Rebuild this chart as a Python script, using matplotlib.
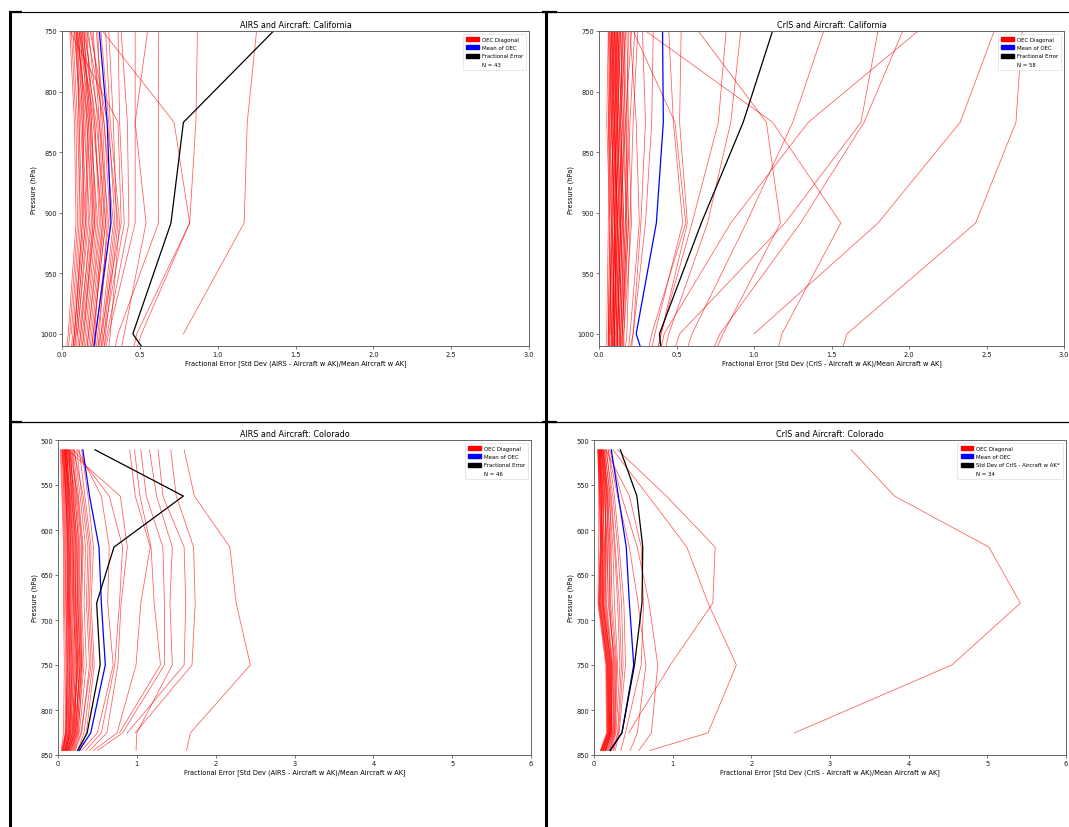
import numpy as np
import matplotlib
matplotlib.use("Agg")
import matplotlib.pyplot as plt
from matplotlib.patches import Patch
from matplotlib.lines import Line2D

nan = np.nan

# pressure levels (hPa) of the retrieval grid, last entry = surface
p_ca = [749.9, 825.4, 908.5, 1000.0, 1012.0]
p_co = [510.9, 562.3, 619.0, 681.3, 749.9, 825.4, 845.0]

# ---- AIRS California: OEC diagonal per profile ----
airs_ca_oec = [
    [1.25, 1.19, 1.17, 0.78, nan],
    [0.87, 0.86, 0.82, 0.51, 0.48],
    [0.26, 0.72, 0.82, 0.48, 0.46],
    [0.62, 0.62, 0.62, 0.36, 0.34],
    [0.55, 0.47, 0.54, 0.40, 0.38],
    [0.47, 0.47, 0.47, 0.30, 0.28],
    [0.38, 0.42, 0.43, 0.29, 0.27],
    [0.36, 0.37, 0.40, 0.27, 0.25],
    [0.05, 0.36, 0.38, 0.25, 0.23],
    [0.10, 0.16, 0.20, 0.14, 0.13],
    [0.12, 0.20, 0.26, 0.18, 0.17],
    [0.08, 0.12, 0.15, 0.09, 0.08],
    [0.14, 0.24, 0.30, 0.22, 0.21],
    [0.11, 0.18, 0.23, 0.16, 0.15],
    [0.09, 0.14, 0.18, 0.12, 0.11],
    [0.16, 0.27, 0.33, 0.25, 0.24],
    [0.13, 0.22, 0.28, 0.20, 0.19],
    [0.10, 0.15, 0.17, 0.10, 0.09],
    [0.07, 0.10, 0.12, 0.07, 0.06],
    [0.18, 0.29, 0.36, 0.28, 0.27],
    [0.12, 0.19, 0.22, 0.15, 0.14],
    [0.15, 0.21, 0.24, 0.17, 0.16],
    [0.06, 0.09, 0.10, 0.05, 0.04],
    [0.20, 0.24, 0.27, 0.19, 0.18],
    [0.11, 0.13, 0.14, 0.08, 0.07],
    [0.22, 0.27, 0.31, 0.23, 0.22],
    [0.09, 0.17, 0.21, 0.13, 0.12],
    [0.14, 0.18, 0.20, 0.12, 0.11],
    [0.25, 0.30, 0.34, 0.26, 0.25],
    [0.10, 0.11, 0.11, 0.06, nan],
    [0.17, 0.23, 0.26, 0.21, 0.20],
    [0.13, 0.16, 0.19, 0.11, 0.10],
    [0.28, 0.31, 0.37, 0.31, 0.30],
    [0.08, 0.13, 0.16, 0.10, nan],
    [0.19, 0.26, 0.29, 0.24, 0.23],
    [0.12, 0.14, 0.13, 0.08, 0.07],
    [0.23, 0.25, 0.28, 0.20, 0.19],
    [0.30, 0.33, 0.35, 0.27, 0.26],
    [0.11, 0.21, 0.25, 0.17, 0.16],
    [0.16, 0.19, 0.21, 0.14, 0.13],
    [0.09, 0.11, 0.13, 0.08, 0.07],
    [0.05, 0.08, 0.09, 0.04, 0.03],
    [0.14, 0.17, 0.15, 0.09, 0.08],
]
airs_ca_mean = [0.24, 0.29, 0.315, 0.215, 0.205]
airs_ca_frac = [1.36, 0.78, 0.70, 0.455, 0.52]

# ---- CrIS California ----
cris_ca_oec = [
    [2.73, 2.69, 2.43, 1.60, 1.57],
    [2.55, 2.33, 1.80, 1.00, nan],
    [0.30, 1.12, 1.56, 1.18, 1.155],
    [1.96, 1.71, 1.30, 0.78, 0.74],
    [1.80, 1.69, 1.20, 0.52, 0.49],
    [2.06, 1.35, 0.85, 0.42, 0.40],
    [1.45, 1.25, 0.95, 0.60, 0.57],
    [0.64, 1.08, 1.17, 0.80, 0.76],
    [0.915, 0.85, 0.70, 0.45, 0.43],
    [0.82, 0.77, 0.60, 0.40, 0.38],
    [0.53, 0.52, 0.57, 0.40, 0.38],
    [0.45, 0.48, 0.54, 0.36, 0.34],
    [0.35, 0.34, 0.30, 0.22, 0.20],
    [0.22, 0.49, 0.56, 0.34, 0.32],
    [0.07, 0.06, 0.08, 0.07, 0.07],
    [0.09, 0.08, 0.10, 0.09, 0.08],
    [0.11, 0.10, 0.12, 0.10, 0.10],
    [0.13, 0.12, 0.14, 0.12, 0.12],
    [0.08, 0.07, 0.09, 0.06, 0.06],
    [0.10, 0.09, 0.11, 0.08, 0.08],
    [0.12, 0.13, 0.15, 0.13, 0.13],
    [0.15, 0.14, 0.16, 0.14, 0.14],
    [0.06, 0.05, 0.07, 0.06, 0.06],
    [0.17, 0.16, 0.18, 0.15, 0.15],
    [0.09, 0.10, 0.09, 0.08, nan],
    [0.19, 0.18, 0.19, 0.16, 0.16],
    [0.11, 0.12, 0.11, 0.10, 0.09],
    [0.14, 0.15, 0.13, 0.11, 0.11],
    [0.08, 0.09, 0.12, 0.09, 0.09],
    [0.21, 0.17, 0.14, 0.12, 0.12],
    [0.10, 0.11, 0.13, 0.11, 0.11],
    [0.12, 0.11, 0.10, 0.09, 0.09],
    [0.16, 0.13, 0.12, 0.10, 0.10],
    [0.07, 0.08, 0.10, 0.08, 0.08],
    [0.23, 0.20, 0.17, 0.15, 0.14],
    [0.13, 0.14, 0.16, 0.14, 0.14],
    [0.09, 0.07, 0.08, 0.07, nan],
    [0.18, 0.19, 0.21, 0.16, 0.16],
    [0.11, 0.09, 0.09, 0.07, 0.07],
    [0.14, 0.12, 0.11, 0.10, 0.10],
    [0.25, 0.22, 0.20, 0.18, 0.17],
    [0.10, 0.12, 0.14, 0.12, 0.12],
    [0.08, 0.10, 0.11, 0.10, 0.10],
    [0.15, 0.17, 0.19, 0.15, 0.15],
    [0.06, 0.07, 0.06, 0.05, 0.05],
    [0.12, 0.10, 0.12, 0.11, 0.11],
    [0.20, 0.24, 0.26, 0.20, 0.19],
    [0.09, 0.11, 0.10, 0.09, 0.09],
    [0.17, 0.14, 0.15, 0.13, 0.13],
    [0.13, 0.11, 0.13, 0.12, 0.12],
    [0.07, 0.09, 0.08, 0.07, 0.07],
    [0.11, 0.13, 0.15, 0.13, 0.13],
    [0.28, 0.30, 0.27, 0.22, 0.21],
    [0.10, 0.08, 0.10, 0.09, 0.09],
    [0.16, 0.18, 0.17, 0.14, 0.14],
    [0.12, 0.15, 0.18, 0.15, nan],
    [0.08, 0.06, 0.07, 0.06, 0.06],
    [0.14, 0.16, 0.14, 0.12, 0.12],
]
cris_ca_mean = [0.41, 0.415, 0.37, 0.24, 0.27]
cris_ca_frac = [1.12, 0.93, 0.66, 0.39, 0.40]

# ---- AIRS Colorado ----
airs_co_oec = [
    [1.60, 1.73, 2.18, 2.26, 2.44, 1.68, 1.63],
    [1.43, 1.50, 1.72, 1.74, 1.70, 0.98, nan],
    [1.27, 1.33, 1.60, 1.62, 1.60, 0.88, nan],
    [1.16, 1.25, 1.45, 1.42, 1.45, 1.00, 0.99],
    [1.05, 1.12, 1.33, 1.35, 1.35, 0.82, 0.50],
    [0.97, 1.04, 1.18, 1.22, 1.30, 0.78, nan],
    [0.91, 0.98, 1.17, 1.05, 0.99, 0.75, 0.45],
    [0.12, 0.79, 0.88, 0.80, 0.76, 0.62, 0.40],
    [0.20, 0.65, 0.82, 0.78, 0.72, 0.55, 0.35],
    [0.25, 0.55, 0.65, 0.63, 0.70, 0.50, 0.30],
    [0.05, 0.08, 0.10, 0.10, 0.12, 0.10, 0.06],
    [0.07, 0.10, 0.13, 0.14, 0.16, 0.13, 0.08],
    [0.09, 0.13, 0.16, 0.16, 0.19, 0.15, 0.10],
    [0.11, 0.15, 0.19, 0.20, 0.22, 0.18, 0.12],
    [0.04, 0.06, 0.08, 0.08, 0.10, 0.09, 0.05],
    [0.13, 0.18, 0.22, 0.22, 0.25, 0.20, 0.14],
    [0.08, 0.12, 0.15, 0.13, 0.15, 0.12, 0.07],
    [0.15, 0.20, 0.24, 0.25, 0.28, 0.22, 0.15],
    [0.06, 0.11, 0.14, 0.15, 0.18, 0.14, 0.09],
    [0.10, 0.16, 0.20, 0.18, 0.21, 0.16, 0.11],
    [0.12, 0.19, 0.25, 0.24, 0.26, 0.19, 0.12],
    [0.17, 0.23, 0.28, 0.27, 0.30, 0.24, 0.17],
    [0.03, 0.05, 0.07, 0.07, 0.08, 0.07, 0.04],
    [0.09, 0.14, 0.18, 0.19, 0.23, 0.17, 0.10],
    [0.14, 0.17, 0.21, 0.21, 0.24, 0.21, 0.13],
    [0.19, 0.26, 0.32, 0.30, 0.33, 0.25, 0.18],
    [0.07, 0.09, 0.11, 0.12, 0.14, 0.11, 0.06],
    [0.11, 0.13, 0.17, 0.17, 0.20, 0.16, 0.09],
    [0.21, 0.28, 0.35, 0.33, 0.36, 0.27, 0.20],
    [0.05, 0.10, 0.13, 0.12, 0.13, 0.11, 0.07],
    [0.13, 0.21, 0.27, 0.26, 0.29, 0.22, 0.14],
    [0.16, 0.19, 0.23, 0.23, 0.25, 0.18, 0.12],
    [0.08, 0.15, 0.19, 0.20, 0.24, 0.19, 0.11],
    [0.24, 0.30, 0.38, 0.36, 0.40, 0.30, 0.22],
    [0.10, 0.12, 0.14, 0.14, 0.17, 0.14, 0.08],
    [0.12, 0.17, 0.23, 0.22, 0.27, 0.23, 0.16],
    [0.06, 0.07, 0.09, 0.10, 0.11, 0.10, 0.05],
    [0.18, 0.24, 0.30, 0.29, 0.31, 0.26, 0.19],
    [0.14, 0.22, 0.26, 0.25, 0.28, 0.21, 0.13],
    [0.09, 0.11, 0.12, 0.13, 0.15, 0.13, 0.09],
    [0.27, 0.34, 0.42, 0.40, 0.44, 0.33, 0.25],
    [0.11, 0.14, 0.16, 0.15, 0.18, 0.15, 0.10],
    [0.15, 0.25, 0.31, 0.28, 0.30, 0.24, 0.16],
    [0.08, 0.10, 0.12, 0.11, 0.12, 0.10, 0.06],
    [0.20, 0.32, 0.40, 0.38, 0.42, 0.29, 0.21],
    [0.30, 0.38, 0.45, 0.42, 0.46, 0.36, 0.28],
]
airs_co_mean = [0.315, 0.40, 0.52, 0.55, 0.60, 0.415, 0.27]
airs_co_frac = [0.47, 1.59, 0.71, 0.49, 0.535, 0.37, 0.25]

# ---- CrIS Colorado ----
cris_co_oec = [
    [3.27, 3.82, 5.02, 5.42, 4.55, 2.55, nan],
    [0.24, 0.69, 1.18, 1.45, 1.81, 1.45, 0.71],
    [0.30, 0.92, 1.54, 1.51, 0.97, 0.44, nan],
    [0.20, 0.35, 0.55, 0.70, 0.81, 0.73, 0.57],
    [0.18, 0.30, 0.45, 0.56, 0.66, 0.55, 0.46],
    [0.15, 0.45, 0.60, 0.63, 0.60, 0.40, 0.34],
    [0.05, 0.07, 0.08, 0.06, 0.16, 0.17, 0.09],
    [0.07, 0.10, 0.10, 0.08, 0.18, 0.19, 0.11],
    [0.08, 0.12, 0.13, 0.11, 0.20, 0.20, 0.12],
    [0.10, 0.14, 0.15, 0.13, 0.22, 0.21, 0.14],
    [0.06, 0.09, 0.11, 0.09, 0.19, 0.19, 0.10],
    [0.09, 0.16, 0.18, 0.16, 0.24, 0.22, 0.15],
    [0.11, 0.15, 0.14, 0.12, 0.21, 0.20, 0.13],
    [0.05, 0.06, 0.06, 0.05, 0.15, 0.16, 0.08],
    [0.12, 0.18, 0.20, 0.19, 0.26, 0.24, 0.17],
    [0.08, 0.11, 0.09, 0.07, 0.17, 0.18, 0.09],
    [0.13, 0.17, 0.16, 0.14, 0.23, 0.22, 0.15],
    [0.07, 0.08, 0.12, 0.10, 0.20, 0.21, 0.12],
    [0.10, 0.13, 0.17, 0.18, 0.27, 0.25, 0.18],
    [0.06, 0.10, 0.08, 0.06, 0.16, 0.17, 0.09],
    [0.14, 0.20, 0.22, 0.21, 0.28, 0.26, 0.20],
    [0.09, 0.12, 0.11, 0.10, 0.19, 0.20, 0.11],
    [0.11, 0.19, 0.24, 0.26, 0.30, 0.27, 0.21],
    [0.08, 0.09, 0.10, 0.11, 0.22, 0.23, 0.14],
    [0.16, 0.22, 0.27, 0.32, 0.35, 0.30, 0.24],
    [0.07, 0.11, 0.13, 0.12, 0.21, 0.21, 0.12],
    [0.12, 0.16, 0.19, 0.20, 0.25, 0.24, 0.16],
    [0.05, 0.08, 0.09, 0.07, 0.18, 0.19, 0.10],
    [0.10, 0.17, 0.21, 0.23, 0.29, 0.26, 0.19],
    [0.18, 0.26, 0.32, 0.38, 0.40, 0.32, 0.27],
    [0.09, 0.14, 0.15, 0.15, 0.23, 0.22, 0.14],
    [0.13, 0.21, 0.26, 0.30, 0.33, 0.28, 0.22],
    [0.06, 0.07, 0.09, 0.08, 0.17, 0.18, 0.09],
    [0.15, 0.24, 0.30, 0.35, 0.37, 0.31, 0.25],
]
cris_co_mean = [0.22, 0.31, 0.41, 0.45, 0.505, 0.355, 0.205]
cris_co_std = [0.335, 0.545, 0.62, 0.61, 0.515, 0.355, 0.205]

W, H = 1069, 828
fig = plt.figure(figsize=(W / 100, H / 100), dpi=100)


def px_axes(l, t, r, b):
    return fig.add_axes([l / W, 1 - b / H, (r - l) / W, (b - t) / H])


def px_line(x0, y0, x1, y1, lw):
    fig.add_artist(Line2D([x0 / W, x1 / W], [1 - y0 / H, 1 - y1 / H],
                          transform=fig.transFigure, color="black", lw=lw,
                          solid_capstyle="butt"))


def panel(ax, levels, oec, mean, third, third_label, n, title, xlabel,
          xlim, ylim, xticks, yticks):
    for prof in oec:
        ax.plot(prof, levels, color="red", lw=0.55, alpha=0.65)
    ax.plot(mean, levels, color="blue", lw=0.9)
    ax.plot(third, levels, color="black", lw=0.9)
    ax.set_xlim(*xlim)
    ax.set_ylim(*ylim)
    ax.set_xticks(xticks)
    ax.set_yticks(yticks)
    ax.tick_params(labelsize=4.8, length=2, width=0.5, pad=1.5,
                   colors="0.25", labelcolor="0.1")
    for s in ax.spines.values():
        s.set_color("0.4")
        s.set_linewidth(0.7)
    ax.set_title(title, fontsize=5.8, pad=3)
    ax.set_xlabel(xlabel, fontsize=4.8, labelpad=2)
    ax.set_ylabel("Pressure (hPa)", fontsize=4.8, labelpad=2)
    handles = [Patch(color="red"), Patch(color="blue"), Patch(color="black"),
               Line2D([], [], color="none")]
    labels = ["OEC Diagonal", "Mean of OEC", third_label, f"N = {n}"]
    leg = ax.legend(handles, labels, loc="upper right", fontsize=3.9,
                    frameon=True, borderaxespad=0.5, handlelength=2.3,
                    handleheight=0.8, labelspacing=0.6, borderpad=0.6,
                    handletextpad=0.6)
    leg.get_frame().set_linewidth(0.4)


ax1 = px_axes(62, 32, 529, 347)
panel(ax1, p_ca, airs_ca_oec, airs_ca_mean, airs_ca_frac, "Fractional Error",
      len(airs_ca_oec), "AIRS and Aircraft: California",
      "Fractional Error [Std Dev (AIRS - Aircraft w AK)/Mean Aircraft w AK]",
      (0, 3.0), (1010, 750), np.arange(0, 3.01, 0.5), range(750, 1001, 50))

ax2 = px_axes(599, 32, 1064, 347)
panel(ax2, p_ca, cris_ca_oec, cris_ca_mean, cris_ca_frac, "Fractional Error",
      len(cris_ca_oec), "CrIS and Aircraft: California",
      "Fractional Error [Std Dev (CrIS - Aircraft w AK)/Mean Aircraft w AK]",
      (0, 3.0), (1010, 750), np.arange(0, 3.01, 0.5), range(750, 1001, 50))

ax3 = px_axes(58, 441, 531, 756)
panel(ax3, p_co, airs_co_oec, airs_co_mean, airs_co_frac, "Fractional Error",
      len(airs_co_oec), "AIRS and Aircraft: Colorado",
      "Fractional Error [Std Dev (AIRS - Aircraft w AK)/Mean Aircraft w AK]",
      (0, 6), (850, 500), range(0, 7), range(500, 851, 50))

ax4 = px_axes(594, 441, 1066, 756)
panel(ax4, p_co, cris_co_oec, cris_co_mean, cris_co_std,
      "Std Dev of CrIS - Aircraft w AK*",
      len(cris_co_oec), "CrIS and Aircraft: Colorado",
      "Fractional Error [Std Dev (CrIS - Aircraft w AK)/Mean Aircraft w AK]",
      (0, 6), (850, 500), range(0, 7), range(500, 851, 50))

# table grid around the four panels
px_line(9, 12.6, W, 12.6, 0.8)
px_line(9, 422.8, W, 422.8, 0.9)
px_line(10.3, 12, 10.3, H, 2.2)
px_line(546, 12, 546, H, 2.2)
px_line(9, 13.3, 22, 13.3, 1.6)
px_line(542, 13.3, 557, 13.3, 1.6)
px_line(9, 423.3, 22, 423.3, 1.6)
px_line(542, 423.3, 557, 423.3, 1.6)

fig.savefig("out.png", dpi=100)
